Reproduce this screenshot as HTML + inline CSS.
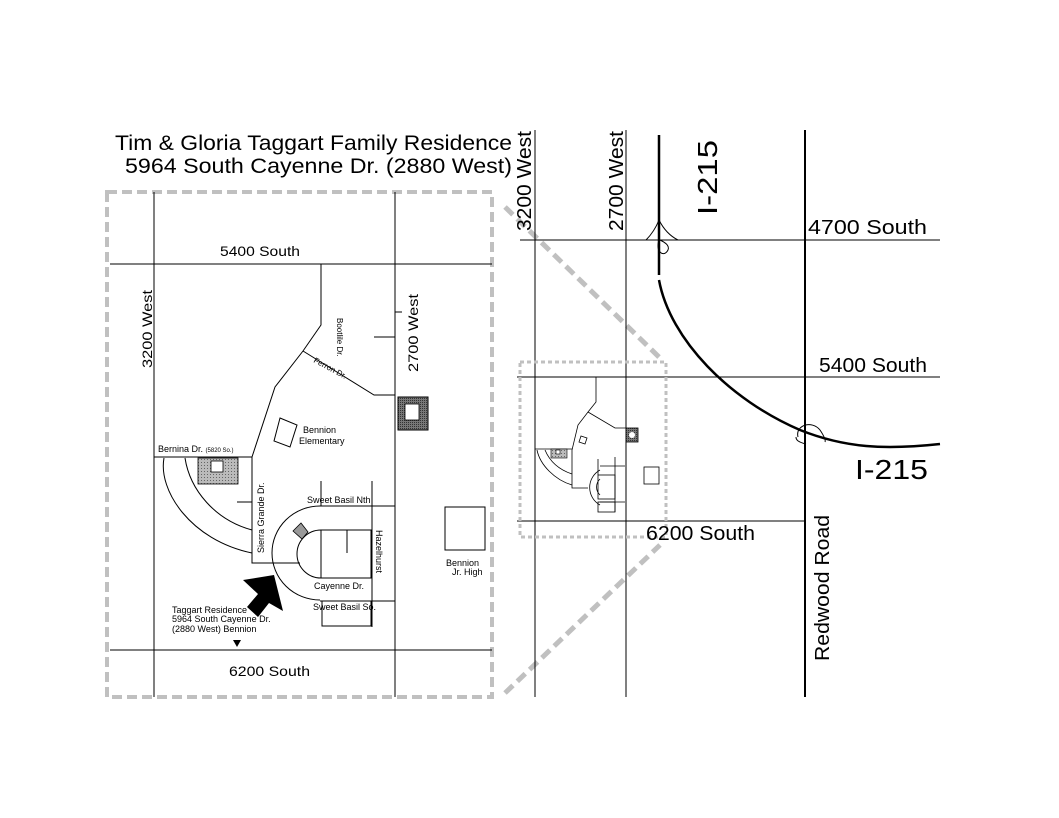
<!DOCTYPE html>
<html><head><meta charset="utf-8"><style>
html,body{margin:0;padding:0;background:#fff;}
svg{display:block;font-family:"Liberation Sans",sans-serif;}
</style></head><body>
<svg width="1059" height="818" viewBox="0 0 1059 818" xmlns="http://www.w3.org/2000/svg">
<defs>
<pattern id="h" width="3" height="3" patternUnits="userSpaceOnUse"><rect width="3" height="3" fill="#bbb"/><rect width="1" height="1" fill="#666"/></pattern>
<pattern id="h2" width="2" height="2" patternUnits="userSpaceOnUse"><rect width="2" height="2" fill="#777"/><rect width="1" height="1" fill="#333"/></pattern>
</defs>
<!-- Title -->
<text x="115" y="150" font-size="21" textLength="397" lengthAdjust="spacingAndGlyphs">Tim &amp; Gloria Taggart Family Residence</text>
<text x="125" y="173" font-size="21" textLength="387" lengthAdjust="spacingAndGlyphs">5964 South Cayenne Dr. (2880 West)</text>

<!-- Left dashed box -->
<rect x="107" y="192" width="385" height="505" fill="none" stroke="#c0c0c0" stroke-width="4" stroke-dasharray="10,5"/>
<g stroke="#000" stroke-width="1" fill="none">
<line x1="154" y1="192" x2="154" y2="697"/>
<line x1="395" y1="192" x2="395" y2="697"/>
<line x1="110" y1="264" x2="492" y2="264"/>
<line x1="110" y1="650" x2="492" y2="650"/>
<polyline points="321,264 321,325 303,351 275,387 252,457 252,563 300,563"/>
<polyline points="303,351 374,395 395,395"/>
<line x1="395" y1="312" x2="402" y2="312"/>
<line x1="374" y1="337" x2="395" y2="337"/>
<line x1="154" y1="457" x2="252" y2="457"/>
<path d="M164,458 C158,490 190,540 252,553"/>
<path d="M185,458 C190,490 215,520 252,530"/>
<line x1="237" y1="502" x2="252" y2="502"/>
<path d="M320,506 A48,47 0 0 0 320,600"/>
<line x1="320" y1="506" x2="395" y2="506"/>
<line x1="320" y1="601" x2="395" y2="601"/>
<line x1="321" y1="481" x2="321" y2="506"/>
<path d="M321,530 A24,24 0 0 0 321,578"/>
<rect x="321" y="530" width="50" height="48"/>
<line x1="347" y1="530" x2="347" y2="553"/>
<line x1="372" y1="481" x2="372" y2="627"/>
<rect x="322" y="601" width="49" height="25"/>
<rect x="445" y="507" width="40" height="43"/>
<polygon points="280,418 297,425 290,447 274,441"/>
</g>
<rect x="398" y="397" width="30" height="33" fill="url(#h2)" stroke="#000"/>
<rect x="405" y="404" width="14" height="16" fill="#fff" stroke="#000" stroke-width="0.8"/>
<rect x="198" y="458" width="40" height="26" fill="url(#h)" stroke="#000" stroke-width="0.8"/>
<rect x="211" y="461" width="12" height="11" fill="#fff" stroke="#000" stroke-width="0.8"/>
<polygon points="293,531 301,523 308,532 302,539" fill="#999" stroke="#000" stroke-width="0.8"/>
<polygon points="274,575 243,580 258,594 247,607 258,617 269,603 283,611" fill="#000"/>
<polygon points="233,640 241,640 237,647" fill="#000"/>
<g font-size="14">
<text x="220" y="256" textLength="80" lengthAdjust="spacingAndGlyphs">5400 South</text>
<text x="229" y="676" textLength="81" lengthAdjust="spacingAndGlyphs">6200 South</text>
<text transform="translate(152,368) rotate(-90)" textLength="78" lengthAdjust="spacingAndGlyphs">3200 West</text>
<text transform="translate(418,372) rotate(-90)" textLength="78" lengthAdjust="spacingAndGlyphs">2700 West</text>
</g>
<g font-size="9">
<text transform="translate(337,318) rotate(90)" font-size="8">Bootlile Dr.</text>
<text transform="translate(313,362) rotate(28)" font-size="8">Ferron Dr.</text>
<text x="303" y="433">Bennion</text>
<text x="299" y="444">Elementary</text>
<text x="158" y="452">Bernina Dr. <tspan font-size="6">(5820 So.)</tspan></text>
<text transform="translate(264,553) rotate(-90)">Sierra Grande Dr.</text>
<text x="307" y="503">Sweet Basil Nth</text>
<text transform="translate(376,530) rotate(90)">Hazelhurst</text>
<text x="314" y="589">Cayenne Dr.</text>
<text x="313" y="610">Sweet Basil So.</text>
<text x="446" y="566">Bennion</text>
<text x="452" y="575">Jr. High</text>
<text x="172" y="613">Taggart Residence</text>
<text x="172" y="622">5964 South Cayenne Dr.</text>
<text x="172" y="632">(2880 West) Bennion</text>
</g>

<!-- Connector dashes -->
<line x1="505" y1="207" x2="660" y2="358" stroke="#c0c0c0" stroke-width="5" stroke-dasharray="11,6"/>
<line x1="505" y1="693" x2="660" y2="545" stroke="#c0c0c0" stroke-width="5" stroke-dasharray="11,6"/>

<!-- Right map -->
<g stroke="#000" stroke-width="1" fill="none">
<line x1="535" y1="130" x2="535" y2="697"/>
<line x1="626" y1="130" x2="626" y2="697"/>
<line x1="805" y1="130" x2="805" y2="697" stroke-width="2"/>
<line x1="520" y1="240" x2="940" y2="240"/>
<line x1="517" y1="377" x2="940" y2="377"/>
<line x1="517" y1="521" x2="805" y2="521"/>
<path d="M659,220 C655,230 650,236 646,240"/>
<path d="M659,220 C664,230 670,236 678,240"/>
<path d="M659,240 C655,252 664,258 668,250 C670,245 664,242 660,240"/>
<path d="M798,437 C795,425 812,420 820,430 C824,436 826,440 825,442"/>
<path d="M806,444 C798,442 796,440 796,437"/>
</g>
<line x1="659" y1="135" x2="659" y2="275" stroke="#000" stroke-width="2.5"/>
<path d="M659,280 C670,340 730,400 800,430 C845,448 885,450 940,444" fill="none" stroke="#000" stroke-width="2.5"/>
<rect x="520" y="362" width="146" height="175" fill="none" stroke="#c0c0c0" stroke-width="3" stroke-dasharray="4,3"/>
<!-- mini map -->
<g stroke="#000" stroke-width="0.8" fill="none">
<polyline points="596,377 596,402 588,412 578,425 572,450 572,488 588,488"/>
<polyline points="588,412 615,428 626,428"/>
<line x1="535" y1="449" x2="572" y2="449"/>
<path d="M537,450 C540,465 555,480 572,485"/>
<path d="M545,450 C550,462 560,470 572,474"/>
<path d="M600,470 A20,20 0 0 0 600,505"/>
<path d="M600,479 A11,11 0 0 0 600,495"/>
<rect x="598" y="475" width="17" height="24"/>
<line x1="600" y1="466" x2="625" y2="466"/>
<line x1="600" y1="502" x2="625" y2="502"/>
<line x1="615" y1="457" x2="615" y2="512"/>
<line x1="598" y1="459" x2="598" y2="475"/>
<rect x="598" y="502" width="17" height="10"/>
<rect x="644" y="467" width="15" height="17"/>
<polygon points="581,436 587,438 585,444 579,442"/>
</g>
<rect x="626" y="428" width="12" height="14" fill="url(#h2)" stroke="#000" stroke-width="0.8"/>
<circle cx="632" cy="435" r="3" fill="#fff"/>
<rect x="551" y="449" width="16" height="9" fill="url(#h)" stroke="#000" stroke-width="0.6"/>
<rect x="556" y="450" width="4" height="4" fill="#fff" stroke="#000" stroke-width="0.6"/>
<g font-size="20">
<text x="808" y="234" textLength="119" lengthAdjust="spacingAndGlyphs">4700 South</text>
<text x="819" y="372" textLength="108" lengthAdjust="spacingAndGlyphs">5400 South</text>
<text x="646" y="540" textLength="109" lengthAdjust="spacingAndGlyphs">6200 South</text>
<text transform="translate(531,231) rotate(-90)" textLength="100" lengthAdjust="spacingAndGlyphs">3200 West</text>
<text transform="translate(623,231) rotate(-90)" textLength="100" lengthAdjust="spacingAndGlyphs">2700 West</text>
<text transform="translate(829,661) rotate(-90)" textLength="146" lengthAdjust="spacingAndGlyphs">Redwood Road</text>
</g>
<text x="855" y="479" font-size="28" textLength="73" lengthAdjust="spacingAndGlyphs">I-215</text>
<text transform="translate(717,215) rotate(-90)" font-size="28" textLength="75" lengthAdjust="spacingAndGlyphs">I-215</text>
</svg>
</body></html>
